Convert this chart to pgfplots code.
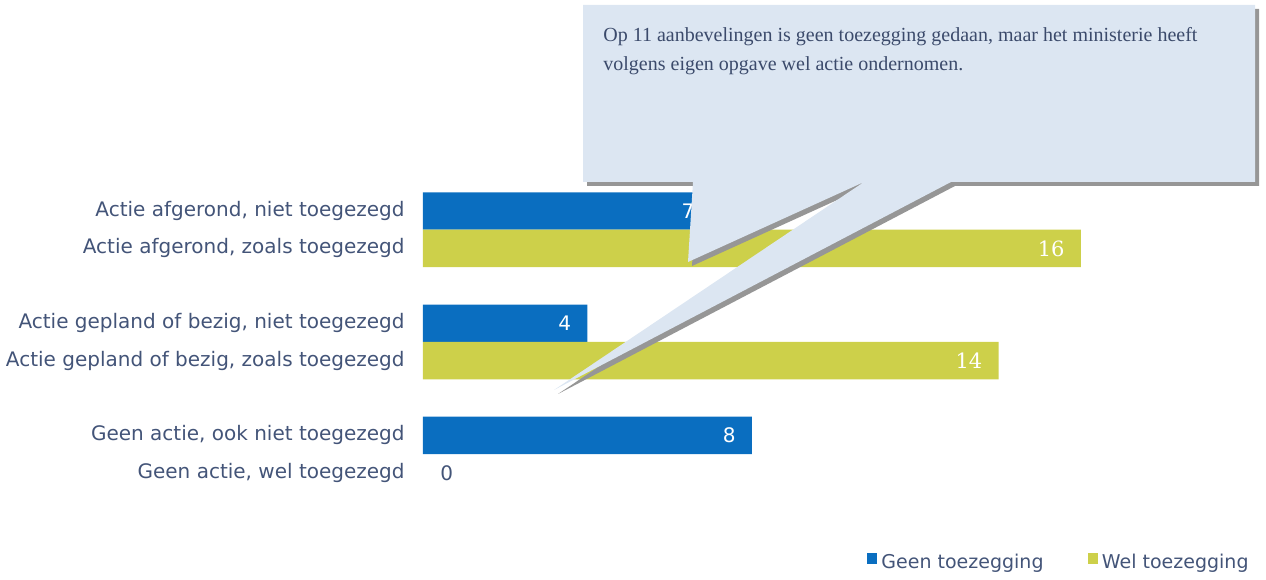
\documentclass[border=0pt]{standalone}
\usepackage{pgfplots}
\pgfplotsset{compat=1.18}
\usepackage{fontspec}
\setmainfont{DejaVu Sans}
\newfontfamily\serifnum{DejaVu Serif}
\newfontfamily\boxfont{Liberation Serif}
\definecolor{barblue}{HTML}{0A6EC0}
\definecolor{baryellow}{HTML}{CDD04A}
\definecolor{lbl}{HTML}{435478}
\definecolor{boxtext}{HTML}{3B4A6B}
\definecolor{boxfill}{HTML}{DCE6F2}
\definecolor{shadowgray}{HTML}{969696}
\newcommand\snum[1]{{\serifnum\fontsize{10.5}{12}\selectfont #1}}
\newcommand\sansnum[1]{{\fontsize{10}{12}\selectfont #1}}
\begin{document}
\begin{tikzpicture}
\begin{scope}[x=0.5pt,y=-0.5pt]
\useasboundingbox (0,0) rectangle (1266,575);
\end{scope}
\begin{axis}[
  at={(211.5pt,-91.5pt)}, anchor=north west,
  scale only axis, width=417pt, height=158.95pt,
  xmin=0, xmax=20.28, ymin=-0.75, ymax=7.75, y dir=reverse,
  xbar, bar width=1,
  axis line style={draw=none}, hide x axis,
  major tick length=0pt, ytick pos=left,
  ytick={0,1,3,4,6,7},
  yticklabels={{Actie afgerond, niet toegezegd}, {Actie afgerond, zoals toegezegd}, {Actie gepland of bezig, niet toegezegd}, {Actie gepland of bezig, zoals toegezegd}, {Geen actie, ook niet toegezegd}, {Geen actie, wel toegezegd}},
  yticklabel style={font=\fontsize{10}{12}\selectfont, text=lbl, inner sep=0pt, xshift=-9pt},
  legend columns=2,
  legend style={draw=none, fill=none, at={(1,0)}, anchor=east, yshift=-31pt, xshift=1pt,
    font=\fontsize{9.5}{11}\selectfont, text=lbl,
    /tikz/every even column/.append style={column sep=20pt}},
  legend image code/.code={\fill[#1,draw=none] (0pt,-0.5pt) rectangle (5.2pt,4.7pt);},
  clip=false,
]
\addplot[fill=barblue, draw=none, bar shift=0pt, point meta=explicit symbolic,
  nodes near coords, nodes near coords style={anchor=east, inner sep=0pt, xshift=-8pt, text=white}]
  coordinates {(7,0) [\sansnum{7}] (4,3) [\sansnum{4}] (8,6) [\sansnum{8}]};
\addlegendentry{Geen toezegging}
\addplot[fill=baryellow, draw=none, bar shift=0pt, point meta=explicit symbolic,
  nodes near coords, nodes near coords style={anchor=east, inner sep=0pt, xshift=-8pt, text=white}]
  coordinates {(16,1) [\snum{16}] (14,4) [\snum{14}]};
\addlegendentry{Wel toezegging}
\addplot[forget plot, fill=none, draw=none, bar shift=0pt, point meta=explicit symbolic,
  nodes near coords, nodes near coords style={anchor=west, inner sep=0pt, xshift=8.5pt, text=lbl}]
  coordinates {(0,7) [\sansnum{0}]};
\end{axis}
\begin{scope}[x=0.5pt,y=-0.5pt]
  \begin{scope}[shift={(4,4)}]
    \fill[shadowgray] (583,5) -- (1255,5) -- (1255,182) -- (951,182) -- (554,390) -- (864,182) -- (688,262) -- (693,182) -- (583,182) -- cycle;
  \end{scope}
  \fill[boxfill] (583,5) -- (1255,5) -- (1255,182) -- (951,182) -- (554,390) -- (864,182) -- (688,262) -- (693,182) -- (583,182) -- cycle;
  \node[anchor=north west, text=boxtext, font=\boxfont\fontsize{10}{14.5}\selectfont, align=left, inner sep=0pt] at (603,27)
    {Op 11 aanbevelingen is geen toezegging gedaan, maar het ministerie heeft\\volgens eigen opgave wel actie ondernomen.};
\end{scope}
\end{tikzpicture}
\end{document}
